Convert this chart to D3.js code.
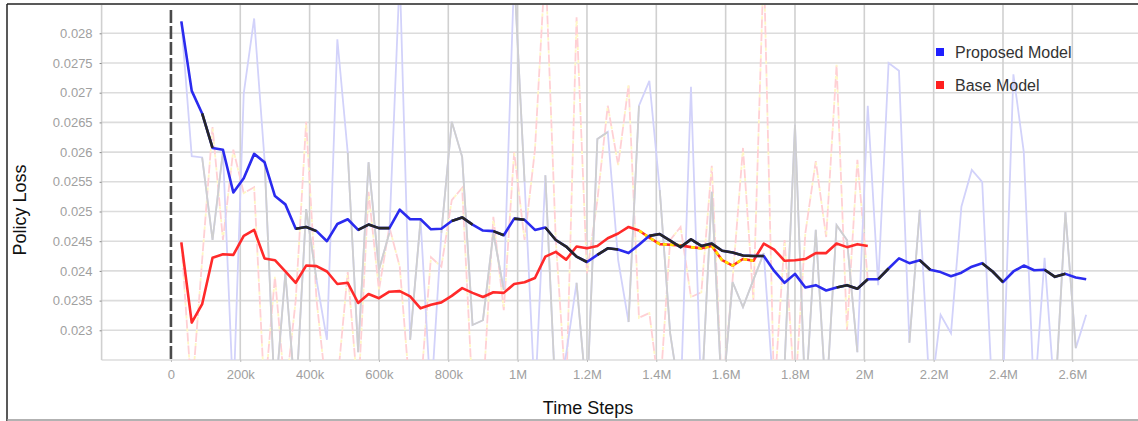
<!DOCTYPE html>
<html>
<head>
<meta charset="utf-8">
<script src="https://cdn.jsdelivr.net/npm/d3@7"></script>
<style>
body { margin: 0; background: #fff; }
#viz svg { display: block; }
</style>
</head>
<body>
<div id="viz"></div>
<script>
// logging interval of the runs (one point every 30k steps)
const logEvery = 30000;

// smoothed curves
const proposedSmooth = [0.02820, 0.02703, 0.02665, 0.02607, 0.02604, 0.02532, 0.02556, 0.02597, 0.02583, 0.02526,
	0.02512, 0.02471, 0.02474, 0.02467, 0.02450, 0.02479, 0.02487, 0.02469, 0.02478, 0.02472,
	0.02472, 0.02503, 0.02487, 0.02487, 0.02470, 0.02471, 0.02484, 0.02490, 0.02478, 0.02468,
	0.02467, 0.02460, 0.02488, 0.02486, 0.02469, 0.02473, 0.02452, 0.02441, 0.02424, 0.02415,
	0.02427, 0.02438, 0.02436, 0.02430, 0.02444, 0.02459, 0.02462, 0.02451, 0.02440, 0.02453,
	0.02442, 0.02446, 0.02434, 0.02431, 0.02426, 0.02425, 0.02425, 0.02400, 0.02380, 0.02395,
	0.02372, 0.02376, 0.02367, 0.02372, 0.02376, 0.02370, 0.02386, 0.02386, 0.02404, 0.02421,
	0.02413, 0.02418, 0.02402, 0.02398, 0.02391, 0.02397, 0.02407, 0.02413, 0.02399, 0.02381,
	0.02399, 0.02409, 0.02401, 0.02402, 0.02390, 0.02395, 0.02389, 0.02386];

const baseSmooth = [0.02448, 0.02313, 0.02344, 0.02422, 0.02428, 0.02427, 0.02459, 0.02469, 0.02421, 0.02418,
	0.02399, 0.02380, 0.02409, 0.02408, 0.02399, 0.02378, 0.02380, 0.02346, 0.02361, 0.02354,
	0.02365, 0.02366, 0.02357, 0.02337, 0.02343, 0.02347, 0.02358, 0.02371, 0.02363, 0.02356,
	0.02364, 0.02363, 0.02378, 0.02381, 0.02388, 0.02424, 0.02432, 0.02419, 0.02441, 0.02438,
	0.02442, 0.02455, 0.02463, 0.02474, 0.02468, 0.02456, 0.02445, 0.02444, 0.02443, 0.02440,
	0.02438, 0.02442, 0.02418, 0.02409, 0.02420, 0.02417, 0.02446, 0.02436, 0.02417, 0.02418,
	0.02420, 0.02430, 0.02430, 0.02446, 0.02440, 0.02445, 0.02442];

// raw (unsmoothed) curves, values past the plot edges are clipped
const proposedRaw = [0.02820, 0.02593, 0.02591, 0.02452, 0.02601, 0.02180, 0.02699, 0.02825, 0.02587, 0.02180,
	0.02396, 0.02180, 0.02504, 0.02385, 0.02284, 0.02790, 0.02599, 0.02263, 0.02583, 0.02402,
	0.02464, 0.02900, 0.02284, 0.02486, 0.02180, 0.02464, 0.02651, 0.02592, 0.02309, 0.02317,
	0.02464, 0.02368, 0.02900, 0.02550, 0.02180, 0.02561, 0.02180, 0.02260, 0.02380, 0.02180,
	0.02622, 0.02634, 0.02418, 0.02314, 0.02678, 0.02720, 0.02536, 0.02295, 0.02180, 0.02710,
	0.02180, 0.02533, 0.02180, 0.02381, 0.02339, 0.02385, 0.02430, 0.02180, 0.02240, 0.02646,
	0.02180, 0.02469, 0.02180, 0.02477, 0.02452, 0.02263, 0.02678, 0.02376, 0.02750, 0.02737,
	0.02279, 0.02503, 0.02180, 0.02326, 0.02295, 0.02508, 0.02570, 0.02550, 0.02180, 0.02200,
	0.02731, 0.02600, 0.02180, 0.02422, 0.02180, 0.02499, 0.02270, 0.02326];

const baseRaw = [0.02449, 0.02190, 0.02418, 0.02642, 0.02452, 0.02604, 0.02531, 0.02541, 0.02190, 0.02390,
	0.02190, 0.02351, 0.02651, 0.02351, 0.02190, 0.02210, 0.02398, 0.02190, 0.02533, 0.02368,
	0.02474, 0.02407, 0.02190, 0.02200, 0.02423, 0.02407, 0.02519, 0.02540, 0.02190, 0.02190,
	0.02491, 0.02334, 0.02600, 0.02452, 0.02604, 0.02920, 0.02452, 0.02190, 0.02827, 0.02396,
	0.02519, 0.02678, 0.02578, 0.02713, 0.02321, 0.02329, 0.02190, 0.02452, 0.02474, 0.02356,
	0.02364, 0.02577, 0.02190, 0.02385, 0.02607, 0.02351, 0.02920, 0.02190, 0.02452, 0.02190,
	0.02464, 0.02585, 0.02457, 0.02747, 0.02300, 0.02587, 0.02385];

// index ranges (1-based) where the second run's curve shows on top
const blackRanges = [[3, 4], [12, 14], [18, 21], [27, 29], [31, 32], [33, 34], [36, 40], [41, 43], [46, 57], [64, 67], [68, 69], [72, 73], [78, 80], [84, 86]];
const grayRawRanges = [[3, 5], [9, 14], [17, 21], [23, 24], [26, 32], [33, 34], [36, 37], [39, 42], [44, 45], [47, 49], [51, 57], [59, 66], [71, 72], [79, 80], [85, 87]];
const yellowRanges = [[45, 49], [50, 56]];

const xTicks = [0, 200000, 400000, 600000, 800000, 1000000, 1200000, 1400000, 1600000, 1800000, 2000000, 2200000, 2400000, 2600000];
const xTickLabels = ["0", "200k", "400k", "600k", "800k", "1M", "1.2M", "1.4M", "1.6M", "1.8M", "2M", "2.2M", "2.4M", "2.6M"];
const yTicks = [0.023, 0.0235, 0.024, 0.0245, 0.025, 0.0255, 0.026, 0.0265, 0.027, 0.0275, 0.028];
const yTickLabels = ["0.023", "0.0235", "0.024", "0.0245", "0.025", "0.0255", "0.026", "0.0265", "0.027", "0.0275", "0.028"];

const legendNames = ["Proposed Model", "Base Model"];
const legendColors = ["#1f1fff", "#ff1f1f"];

function draw() {
	let W = 1138, H = 421;
	let left = 101.6, right = 1138.2, top = 3.6, bottom = 360;

	let svg = d3.select("#viz").append("svg")
		.attr("width", W).attr("height", H)
		.style("font-family", "'Liberation Sans', Arial, sans-serif");

	let x = d3.scaleLinear().domain([-200000, 2790000]).range([left, right]);
	let y = d3.scaleLinear().domain([0.0225, 0.0285]).range([bottom, top]);

	// grid
	let grid = svg.append("g");
	grid.selectAll(".hg").data([0.0225].concat(yTicks)).enter().append("line")
		.attr("x1", left).attr("x2", W)
		.attr("y1", d => y(d)).attr("y2", d => y(d))
		.attr("stroke", "#dcdcdc").attr("stroke-width", 1.6);
	grid.selectAll(".vg").data([-200000].concat(xTicks.slice(1))).enter().append("line")
		.attr("x1", d => x(d)).attr("x2", d => x(d))
		.attr("y1", 5).attr("y2", bottom)
		.attr("stroke", "#d0d0d0").attr("stroke-width", 1.6);

	// axes
	let yAxis = d3.axisLeft(y).tickValues(yTicks)
		.tickFormat((d, i) => yTickLabels[i]).tickSize(2).tickPadding(7);
	let gy = svg.append("g").attr("transform", "translate(" + left + ",0)").call(yAxis);
	gy.select(".domain").remove();
	gy.selectAll(".tick line").attr("stroke", "#888");
	gy.selectAll("text").attr("fill", "#a0a0a0").style("font-size", "13px");

	let xAxis = d3.axisBottom(x).tickValues(xTicks)
		.tickFormat((d, i) => xTickLabels[i]).tickSize(2).tickPadding(8);
	let gx = svg.append("g").attr("transform", "translate(0," + bottom + ")").call(xAxis);
	gx.select(".domain").remove();
	gx.selectAll(".tick line").attr("stroke", "#bbb");
	gx.selectAll("text").attr("fill", "#a0a0a0").style("font-size", "13px");

	// zero line
	svg.append("line")
		.attr("x1", x(0)).attr("x2", x(0))
		.attr("y1", 10).attr("y2", bottom)
		.attr("stroke", "#4a4a4a").attr("stroke-width", 2.6)
		.attr("stroke-dasharray", "13,3");

	svg.append("clipPath").attr("id", "plot").append("rect")
		.attr("x", left).attr("y", 5).attr("width", right - left).attr("height", bottom - 5);
	let plot = svg.append("g").attr("clip-path", "url(#plot)");

	let line = d3.line().x(d => x(d[0])).y(d => y(d[1]));
	let pts = arr => arr.map((v, i) => [(i + 1) * logEvery, v]);
	let part = (arr, r) => pts(arr).slice(r[0] - 1, r[1]);

	// raw curves
	plot.append("path").attr("d", line(pts(baseRaw)))
		.attr("fill", "none").attr("stroke", "#ffd0d4").attr("stroke-width", 1.8)
		.attr("stroke-dasharray", "9,4");
	plot.append("path").attr("d", line(pts(baseRaw)))
		.attr("fill", "none").attr("stroke", "#fff7c4").attr("stroke-width", 1.8)
		.attr("stroke-dasharray", "3,10").attr("stroke-dashoffset", -9);
	plot.append("path").attr("d", line(pts(proposedRaw)))
		.attr("fill", "none").attr("stroke", "#d2d2fa").attr("stroke-width", 1.8);
	grayRawRanges.forEach(r => {
		plot.append("path").attr("d", line(part(proposedRaw, r)))
			.attr("fill", "none").attr("stroke", "#cfcfcf").attr("stroke-width", 1.8);
	});

	// smoothed curves
	plot.append("path").attr("d", line(pts(baseSmooth)))
		.attr("fill", "none").attr("stroke", "#ff2a2a").attr("stroke-width", 2.6)
		.attr("stroke-linejoin", "round");
	yellowRanges.forEach(r => {
		plot.append("path").attr("d", line(part(baseSmooth, r)))
			.attr("fill", "none").attr("stroke", "#ffe100").attr("stroke-width", 2.6)
			.attr("stroke-dasharray", "4,3");
	});
	plot.append("path").attr("d", line(pts(proposedSmooth)))
		.attr("fill", "none").attr("stroke", "#2b2bef").attr("stroke-width", 2.6)
		.attr("stroke-linejoin", "round");
	blackRanges.forEach(r => {
		plot.append("path").attr("d", line(part(proposedSmooth, r)))
			.attr("fill", "none").attr("stroke", "#262626").attr("stroke-width", 2.6)
			.attr("stroke-linejoin", "round");
	});

	// legend
	let lg = svg.append("g").selectAll("g").data(legendNames).enter().append("g")
		.attr("transform", (d, i) => "translate(936," + (48 + i * 33) + ")");
	lg.append("rect").attr("width", 8).attr("height", 8).attr("fill", (d, i) => legendColors[i]);
	lg.append("text").text(d => d).attr("x", 19).attr("y", 9.5)
		.style("font-size", "16px").attr("fill", "#333");

	// titles
	svg.append("text").text("Policy Loss")
		.attr("transform", "translate(26,210) rotate(-90)")
		.attr("text-anchor", "middle")
		.style("font-size", "18px").attr("fill", "#111");
	svg.append("text").text("Time Steps")
		.attr("x", 588).attr("y", 414)
		.attr("text-anchor", "middle")
		.style("font-size", "18px").attr("fill", "#111");

	// frame
	svg.append("line").attr("x1", 7).attr("x2", W).attr("y1", 4).attr("y2", 4)
		.attr("stroke", "#222").attr("stroke-width", 1.5);
	svg.append("line").attr("x1", 7).attr("x2", 7).attr("y1", 4).attr("y2", 421)
		.attr("stroke", "#222").attr("stroke-width", 1.5);
	svg.append("line").attr("x1", 7).attr("x2", W).attr("y1", 420).attr("y2", 420)
		.attr("stroke", "#999").attr("stroke-width", 1.5);
}
draw();
</script>
</body>
</html>
